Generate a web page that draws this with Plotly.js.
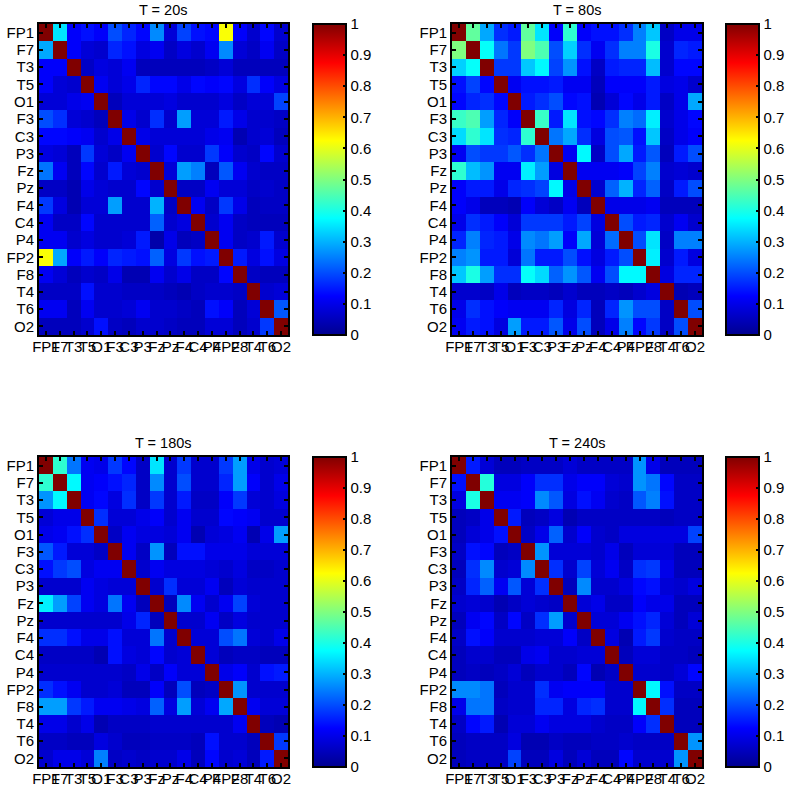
<!DOCTYPE html>
<html>
<head>
<meta charset="utf-8">
<script src="https://cdn.plot.ly/plotly-3.0.1.min.js"></script>
<style>html,body{margin:0;padding:0;background:#fff}</style>
</head>
<body>
<div id="plot" style="width:797px;height:791px"></div>
<script>
// EEG channels, same order on both axes
var channels = ["FP1","F7","T3","T5","O1","F3","C3","P3","Fz","Pz","F4","C4","P4","FP2","F8","T4","T6","O2"];
var barTicks = [0,0.1,0.2,0.3,0.4,0.5,0.6,0.7,0.8,0.9,1];
var barLabels = ["0","0.1","0.2","0.3","0.4","0.5","0.6","0.7","0.8","0.9","1"];
var titles = ["T = 20s","T = 80s","T = 180s","T = 240s"];

var z20 = [
[1,.35,.12,.14,.12,.2,.16,.13,.26,.08,.19,.14,.13,.62,.12,.07,.13,.07],
[.29,1,.12,.08,.07,.16,.14,.09,.11,.06,.09,.07,.11,.26,.08,.06,.11,.06],
[.12,.12,1,.06,.09,.08,.11,.05,.05,.05,.05,.05,.06,.08,.05,.05,.05,.05],
[.12,.08,.07,1,.11,.08,.1,.16,.13,.13,.1,.13,.12,.13,.09,.17,.12,.09],
[.08,.08,.1,.11,1,.05,.08,.08,.08,.09,.07,.07,.07,.09,.06,.08,.08,.19],
[.2,.17,.08,.07,.05,1,.1,.07,.17,.07,.28,.08,.08,.15,.1,.07,.07,.06],
[.13,.13,.12,.11,.07,.1,1,.1,.08,.08,.08,.08,.1,.11,.04,.07,.08,.05],
[.09,.08,.05,.18,.08,.06,.11,1,.07,.13,.07,.07,.18,.12,.07,.06,.13,.07],
[.24,.11,.05,.13,.07,.15,.08,.07,1,.08,.28,.25,.05,.21,.11,.07,.06,.06],
[.06,.06,.04,.1,.08,.07,.07,.13,.07,1,.06,.06,.11,.08,.08,.06,.07,.06],
[.18,.09,.04,.08,.08,.28,.07,.07,.3,.06,1,.11,.06,.18,.1,.05,.06,.06],
[.11,.06,.06,.13,.07,.07,.07,.07,.22,.07,.09,1,.07,.11,.06,.05,.05,.05],
[.11,.11,.07,.09,.07,.07,.08,.15,.03,.1,.05,.06,1,.11,.06,.07,.15,.07],
[.62,.29,.12,.15,.12,.16,.15,.14,.22,.09,.18,.14,.15,1,.15,.09,.14,.09],
[.11,.08,.05,.07,.06,.1,.04,.04,.11,.07,.1,.06,.06,.13,1,.06,.05,.05],
[.06,.06,.06,.14,.07,.07,.06,.06,.06,.05,.04,.06,.07,.07,.06,1,.07,.08],
[.11,.11,.05,.11,.07,.07,.08,.11,.07,.07,.06,.05,.14,.12,.05,.08,1,.21],
[.05,.05,.05,.07,.14,.06,.05,.07,.07,.06,.05,.05,.08,.08,.05,.07,.18,1]
];
var z80 = [
[1,.47,.29,.17,.15,.47,.35,.12,.42,.12,.14,.14,.17,.25,.32,.06,.1,.1],
[.5,1,.38,.24,.18,.5,.45,.2,.33,.17,.11,.17,.25,.25,.4,.07,.16,.15],
[.33,.38,1,.18,.18,.32,.37,.19,.27,.14,.06,.15,.16,.16,.31,.07,.13,.13],
[.14,.19,.13,1,.11,.14,.14,.15,.11,.11,.05,.12,.12,.12,.15,.09,.1,.07],
[.13,.16,.17,.13,1,.15,.17,.2,.13,.14,.04,.08,.13,.1,.15,.06,.1,.29],
[.43,.45,.28,.16,.12,1,.43,.15,.35,.14,.13,.17,.25,.23,.36,.07,.1,.13],
[.34,.42,.35,.17,.16,.42,1,.24,.29,.17,.09,.2,.21,.14,.32,.06,.1,.12],
[.11,.2,.18,.18,.21,.17,.24,1,.11,.37,.06,.2,.29,.15,.21,.05,.15,.2],
[.42,.31,.27,.11,.11,.36,.28,.09,1,.11,.11,.11,.12,.19,.25,.07,.08,.07],
[.12,.15,.15,.1,.16,.17,.19,.37,.1,1,.07,.22,.3,.16,.22,.06,.15,.2],
[.12,.1,.05,.05,.04,.12,.08,.06,.11,.05,1,.1,.1,.1,.11,.05,.05,.05],
[.1,.17,.15,.12,.08,.18,.18,.18,.15,.19,.09,1,.2,.15,.16,.07,.11,.07],
[.16,.25,.16,.15,.1,.26,.24,.28,.12,.29,.08,.23,1,.2,.35,.06,.25,.25],
[.25,.27,.15,.15,.08,.24,.15,.15,.2,.14,.09,.15,.2,1,.36,.07,.15,.09],
[.32,.4,.28,.17,.17,.38,.34,.22,.27,.21,.11,.2,.37,.37,1,.09,.16,.16],
[.07,.07,.06,.1,.05,.06,.06,.05,.07,.05,.05,.06,.05,.07,.09,1,.04,.05],
[.1,.17,.14,.12,.11,.11,.11,.16,.09,.16,.05,.16,.27,.2,.2,.06,1,.2],
[.11,.15,.14,.09,.28,.15,.15,.21,.1,.2,.05,.1,.25,.13,.18,.06,.2,1]
];
var z180 = [
[1,.42,.24,.11,.1,.18,.13,.06,.35,.07,.18,.07,.07,.18,.28,.1,.07,.08],
[.42,1,.37,.11,.12,.14,.16,.06,.26,.07,.2,.07,.07,.16,.28,.12,.07,.1],
[.27,.37,1,.11,.13,.09,.17,.06,.18,.07,.15,.06,.06,.12,.18,.08,.07,.09],
[.08,.1,.1,1,.17,.08,.08,.1,.12,.07,.11,.07,.07,.13,.12,.11,.07,.07],
[.1,.11,.14,.17,1,.06,.11,.09,.09,.08,.11,.04,.08,.09,.11,.04,.1,.28],
[.21,.15,.08,.08,.06,1,.11,.06,.27,.05,.14,.14,.1,.1,.1,.08,.08,.08],
[.14,.18,.2,.09,.11,.11,1,.07,.11,.09,.09,.09,.08,.07,.09,.06,.06,.07],
[.07,.07,.07,.11,.09,.08,.08,1,.07,.17,.08,.08,.11,.05,.08,.07,.07,.07],
[.36,.28,.19,.11,.09,.24,.11,.05,1,.05,.26,.11,.07,.11,.19,.08,.07,.07],
[.07,.07,.07,.07,.07,.07,.1,.16,.05,1,.07,.07,.11,.06,.09,.07,.07,.07],
[.17,.17,.14,.1,.1,.14,.08,.08,.24,.07,1,.08,.08,.2,.24,.08,.07,.1],
[.06,.06,.06,.06,.04,.14,.09,.08,.13,.07,.08,1,.08,.05,.06,.06,.05,.05],
[.07,.07,.07,.07,.07,.07,.06,.1,.06,.12,.08,.08,1,.1,.12,.07,.14,.15],
[.17,.14,.11,.07,.07,.08,.05,.05,.12,.05,.2,.05,.06,1,.27,.07,.07,.07],
[.28,.28,.18,.15,.11,.11,.1,.09,.22,.09,.28,.08,.11,.29,1,.11,.08,.08],
[.1,.1,.07,.1,.04,.06,.06,.06,.07,.07,.07,.07,.07,.07,.11,1,.05,.04],
[.06,.06,.05,.05,.09,.07,.05,.05,.06,.06,.06,.05,.14,.07,.07,.05,1,.18],
[.07,.1,.1,.08,.25,.06,.07,.06,.07,.07,.1,.05,.13,.07,.08,.05,.15,1]
];
var z240 = [
[1,.15,.08,.05,.05,.06,.06,.06,.08,.06,.06,.06,.06,.27,.1,.05,.05,.05],
[.14,1,.41,.09,.09,.12,.17,.17,.1,.12,.12,.08,.07,.27,.24,.13,.06,.06],
[.09,.4,1,.11,.11,.12,.26,.21,.09,.14,.11,.07,.06,.21,.25,.14,.06,.06],
[.05,.06,.1,1,.15,.05,.06,.09,.04,.06,.06,.06,.06,.06,.06,.05,.06,.06],
[.05,.08,.1,.14,1,.06,.1,.22,.07,.12,.07,.06,.09,.09,.09,.09,.09,.19],
[.06,.14,.13,.05,.06,1,.27,.08,.08,.08,.07,.1,.05,.08,.08,.08,.05,.05],
[.05,.17,.26,.07,.08,.26,1,.17,.07,.19,.08,.11,.06,.17,.18,.1,.05,.05],
[.06,.16,.22,.11,.21,.08,.17,1,.05,.26,.07,.07,.09,.13,.14,.08,.07,.09],
[.07,.08,.07,.04,.06,.08,.07,.06,1,.08,.1,.06,.06,.12,.1,.1,.05,.05],
[.05,.11,.13,.06,.13,.06,.17,.28,.07,1,.08,.08,.11,.14,.16,.08,.05,.08],
[.06,.14,.12,.07,.07,.07,.08,.08,.12,.06,1,.09,.04,.15,.18,.07,.06,.06],
[.05,.07,.07,.05,.05,.1,.11,.07,.07,.08,.08,1,.05,.08,.08,.06,.06,.05],
[.05,.06,.05,.06,.08,.05,.07,.07,.05,.13,.04,.06,1,.07,.07,.06,.08,.13],
[.26,.26,.24,.05,.07,.07,.17,.11,.12,.12,.12,.07,.07,1,.37,.14,.06,.06],
[.1,.24,.24,.06,.07,.07,.16,.16,.09,.16,.17,.07,.07,.37,1,.17,.05,.05],
[.06,.13,.15,.04,.08,.08,.11,.09,.09,.09,.07,.06,.06,.12,.17,1,.05,.05],
[.05,.06,.06,.06,.09,.04,.04,.06,.05,.05,.06,.06,.07,.06,.06,.06,1,.27],
[.05,.06,.06,.06,.19,.05,.05,.09,.05,.08,.05,.05,.13,.07,.07,.07,.27,1]
];
var matrices = [z20, z80, z180, z240];

// matlab jet
var jet = [
  [0, "rgb(0,0,143)"],
  [0.125, "rgb(0,0,255)"],
  [0.375, "rgb(0,255,255)"],
  [0.625, "rgb(255,255,0)"],
  [0.875, "rgb(255,0,0)"],
  [1, "rgb(128,0,0)"]
];

var W = 797, H = 791;
var font = {family: "Liberation Sans, Arial, sans-serif", size: 15, color: "#000"};

// pixel boxes of the four panels: left, right, top, bottom, colorbar left
var boxes = [
  [39, 288, 24, 335, 313],
  [452, 702, 24, 335, 726],
  [39, 288, 457, 767, 313],
  [452, 702, 457, 767, 726]
];

var data = [];
var layout = {
  width: W,
  height: H,
  margin: {l: 0, r: 0, t: 0, b: 0, autoexpand: false},
  paper_bgcolor: "#fff",
  plot_bgcolor: "#fff",
  font: font,
  showlegend: false,
  annotations: []
};

boxes.forEach(function(b, i) {
  var n = i + 1;
  var suffix = n === 1 ? "" : String(n);
  var top = 1 - b[2] / H;
  var bottom = 1 - b[3] / H;

  data.push({
    type: "heatmap",
    x: channels,
    y: channels,
    z: matrices[i],
    xaxis: "x" + suffix,
    yaxis: "y" + suffix,
    zmin: 0,
    zmax: 1,
    colorscale: jet,
    colorbar: {
      x: b[4] / W,
      xanchor: "left",
      xpad: 0,
      y: top,
      yanchor: "top",
      ypad: 0,
      len: top - bottom,
      lenmode: "fraction",
      thickness: 33,
      thicknessmode: "pixels",
      outlinecolor: "#000",
      outlinewidth: 2,
      tickmode: "array",
      tickvals: barTicks,
      ticktext: barLabels,
      ticks: "inside",
      ticklen: 4,
      tickwidth: 2,
      tickcolor: "#000",
      tickfont: font
    }
  });

  layout["xaxis" + suffix] = {
    domain: [b[0] / W, b[1] / W],
    anchor: "y" + suffix,
    type: "category",
    categoryorder: "array",
    categoryarray: channels,
    tickmode: "array",
    tickvals: channels,
    ticktext: channels,
    tickangle: 0,
    ticks: "inside",
    ticklen: 4,
    tickwidth: 1.5,
    tickcolor: "#000",
    ticklabelstandoff: -3,
    showline: true,
    linecolor: "#000",
    linewidth: 2,
    mirror: "allticks",
    showgrid: false,
    zeroline: false,
    automargin: false,
    tickfont: font
  };
  layout["yaxis" + suffix] = {
    domain: [bottom, top],
    anchor: "x" + suffix,
    type: "category",
    categoryorder: "array",
    categoryarray: channels,
    autorange: "reversed",
    tickmode: "array",
    tickvals: channels,
    ticktext: channels,
    ticks: "inside",
    ticklen: 4,
    tickwidth: 1.5,
    tickcolor: "#000",
    showline: true,
    linecolor: "#000",
    linewidth: 2,
    mirror: "allticks",
    showgrid: false,
    zeroline: false,
    automargin: false,
    tickfont: font
  };

  layout.annotations.push({
    text: titles[i],
    xref: "paper",
    yref: "paper",
    x: (b[0] + b[1]) / 2 / W,
    y: 1 - (b[2] - 15) / H,
    yshift: -1,
    xanchor: "center",
    yanchor: "middle",
    showarrow: false,
    font: {family: font.family, size: 14.5, color: "#000"}
  });
});

Plotly.newPlot("plot", data, layout, {displayModeBar: false, responsive: false});
</script>
</body>
</html>
